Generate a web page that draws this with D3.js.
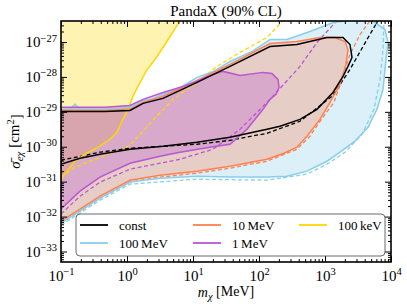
<!DOCTYPE html>
<html>
<head>
<meta charset="utf-8">
<script src="https://cdn.jsdelivr.net/npm/d3@7"></script>
<style>
  body { margin: 0; background: #fff; }
  svg text { font-family: "Liberation Serif", "DejaVu Serif", serif; fill: #000; }
</style>
</head>
<body>
<svg id="chart" width="407" height="304"></svg>
<script>
// contours: [m_chi (MeV), sigma_e (cm^2)]
const constSolid = [[0.1,1.03e-29],[0.464,1.03e-29],[1.11,1.1e-29],[1.75,1.75e-29],[3.51,2.43e-29],[11.5,6.97e-29],[36.4,2.0e-28],[147,7.43e-28],[376,8.49e-28],[1072,1.35e-27],[1874,1.35e-27],[2390,8.49e-28],[2565,3.6e-28],[2230,2.0e-28],[1874,1.03e-28],[1322,3.6e-29],[756,1.18e-29],[418,6.1e-30],[208,3.85e-30],[132,3.16e-30],[36.4,1.87e-30],[11.5,1.35e-30],[3.51,1.03e-30],[1.11,8.5e-31],[0.39,6.1e-31],[0.194,4.7e-31],[0.1,3.16e-31]];
const constDashed = [[0.1,4.1e-31],[0.39,6.97e-31],[1.11,9.06e-31],[3.51,1.03e-30],[11.5,1.18e-30],[36.4,1.53e-30],[132,2.43e-30],[418,5.36e-30],[1322,2.96e-29],[2390,1.64e-28],[4325,1.18e-27],[6355,4.1e-27]];

const mev100Solid = [[0.1,1.18e-29],[0.137,1.18e-29],[0.163,1.64e-29],[0.194,1.18e-29],[0.464,1.18e-29],[1.11,1.35e-29],[1.75,2.13e-29],[2.4,2.3e-29],[3.51,3.16e-29],[6,4.6e-29],[11.5,9.7e-29],[20,1.4e-28],[36.4,2.77e-28],[80,5.5e-28],[147,1.18e-27],[266,1.18e-27],[592,2.0e-27],[1322,3.6e-27],[2390,4.1e-27],[5150,4.1e-27],[8110,2.28e-27],[9020,9.7e-28],[8400,3.16e-28],[7570,4.4e-29],[6135,1.18e-29],[4485,3.6e-30],[2850,1.44e-30],[1690,6.97e-31],[1072,3.85e-31],[533,2.0e-31],[266,1.44e-31],[132,1.35e-31],[36.4,1.35e-31],[11.5,1.44e-31],[3.16,1.26e-31],[1.11,9.7e-32],[0.39,3.38e-32],[0.194,1.44e-32],[0.1,6.5e-33]];
const mev100Dashed = [[0.1,5.7e-33],[0.39,2.96e-32],[1.11,8.5e-32],[11.5,1.18e-31],[132,1.1e-31],[533,1.64e-31],[1072,3.16e-31],[2010,6.97e-31],[3640,2.28e-30],[5520,1.18e-29],[6810,8.5e-29],[7570,6.1e-28],[7830,4.1e-27]];

const mev10Solid = [[0.1,1.1e-29],[0.464,1.1e-29],[1.11,1.18e-29],[1.75,1.87e-29],[3.51,2.77e-29],[11.5,7.94e-29],[36.4,2.28e-28],[147,9.06e-28],[376,1.03e-27],[840,1.35e-27],[1418,1.35e-27],[2010,1.03e-27],[2230,6.1e-28],[2080,2.28e-28],[1690,6.1e-29],[1191,1.87e-29],[840,6.1e-30],[533,2.0e-30],[376,9.7e-31],[239,6.5e-31],[132,4.4e-31],[36.4,2.77e-31],[11.5,2.0e-31],[3.16,1.53e-31],[1.11,1.1e-31],[0.39,3.85e-32],[0.194,1.64e-32],[0.1,7.4e-33]];
const mev10Dashed = [[0.1,6.5e-33],[0.194,1.44e-32],[0.39,3.38e-32],[1.11,9.7e-32],[3.16,1.35e-31],[11.5,1.75e-31],[36.4,2.43e-31],[132,3.85e-31],[376,8.5e-31],[592,2.0e-30],[840,5.36e-30],[1368,1.87e-29],[1811,8.5e-29],[2390,4.4e-28],[3390,1.64e-27],[4810,4.1e-27]];

const mev1Solid = [[0.1,1.35e-29],[0.464,1.35e-29],[1.11,1.53e-29],[1.75,2.28e-29],[3.51,3.6e-29],[7.05,5.36e-29],[11.5,7.43e-29],[18.1,1.1e-28],[28.5,1.44e-28],[51.5,1.1e-28],[115,1.35e-28],[157,1.26e-28],[194,8.5e-29],[201,5.0e-29],[181,3.16e-29],[147,2.28e-29],[115,1.18e-29],[65.8,3.16e-30],[36.4,1.18e-30],[18.1,9.7e-31],[6.35,6.97e-31],[3.16,5.36e-31],[1.11,3.38e-31],[0.39,1.35e-31],[0.194,5.36e-32],[0.1,1.64e-32]];
const mev1Dashed = [[0.1,1.18e-32],[0.194,3.85e-32],[0.39,9.7e-32],[1.11,2.28e-31],[3.16,3.38e-31],[6.35,4.4e-31],[20.1,8.5e-31],[51.5,3.16e-30],[147,2.28e-29],[418,2.0e-28],[756,9.7e-28],[1521,4.1e-27]];

const kev100Solid = [[0.1,1.18e-31],[0.123,2.0e-31],[0.163,3.85e-31],[0.231,6.1e-31],[0.364,9.7e-31],[0.552,1.64e-30],[0.705,2.6e-30],[0.839,5.36e-30],[1.035,1.18e-29],[1.23,2.77e-29],[1.52,6.1e-29],[1.94,1.44e-28],[2.85,3.85e-28],[3.76,8.5e-28],[4.48,1.44e-27],[5.34,2.43e-27],[6.35,4.1e-27]];
const kev100Dashed = [[0.1,1.35e-31],[0.163,2.6e-31],[0.39,5.0e-31],[1.11,1.1e-30],[2.23,4.7e-30],[4.98,2.28e-29],[11.5,6.97e-29],[23.1,2.0e-28],[51.5,5.0e-28],[132,1.35e-27],[231,4.1e-27]];

const seriesNames = ['const', '100\u2009MeV', '10\u2009MeV', '1\u2009MeV', '100\u2009keV'];
const seriesColors = ['#000000', '#87ceeb', '#ff7f50', '#ba55d3', '#ffd700'];

const xTicks = [0.1, 1, 10, 100, 1000, 10000];
const xExps = [-1, 0, 1, 2, 3, 4];
const yTicks = [1e-33, 1e-32, 1e-31, 1e-30, 1e-29, 1e-28, 1e-27];
const yExps = [-33, -32, -31, -30, -29, -28, -27];

const W = 407, H = 304;
const margin = {top: 21, right: 16, bottom: 42, left: 61};
const svg = d3.select('#chart');

const x = d3.scaleLog().domain([0.1, 1e4]).range([margin.left, W - margin.right]);
const y = d3.scaleLog().domain([5e-34, 4e-27]).range([H - margin.bottom, margin.top]);

svg.append('clipPath').attr('id', 'plotclip')
  .append('rect')
  .attr('x', x.range()[0]).attr('y', y.range()[1])
  .attr('width', x.range()[1] - x.range()[0])
  .attr('height', y.range()[0] - y.range()[1]);

const plot = svg.append('g').attr('clip-path', 'url(#plotclip)');

const line = d3.line().x(d => x(d[0])).y(d => y(d[1]));
const closed = d3.line().x(d => x(d[0])).y(d => y(d[1])).curve(d3.curveLinearClosed);

// filled regions
const yellowRegion = kev100Solid.concat([[0.1, 4.1e-27]]);
const fills = [
  [yellowRegion, seriesColors[4]],
  [mev100Solid, seriesColors[1]],
  [mev10Solid, seriesColors[2]],
  [mev1Solid, seriesColors[3]]
];
fills.forEach(f => {
  plot.append('path')
    .attr('d', closed(f[0]))
    .attr('fill', f[1])
    .attr('fill-opacity', 0.3)
    .attr('stroke', 'none');
});

// dashed curves
const dashed = [
  [kev100Dashed, seriesColors[4]],
  [mev100Dashed, seriesColors[1]],
  [mev1Dashed, seriesColors[3]],
  [mev10Dashed, seriesColors[2]],
  [constDashed, seriesColors[0]]
];
dashed.forEach(s => {
  plot.append('path')
    .attr('d', line(s[0]))
    .attr('fill', 'none')
    .attr('stroke', s[1])
    .attr('stroke-width', 1.3)
    .attr('stroke-dasharray', '4,2.5');
});

// solid outlines
plot.append('path').attr('d', line(kev100Solid))
  .attr('fill', 'none').attr('stroke', seriesColors[4]).attr('stroke-width', 1.5);
[[mev100Solid, 1], [mev10Solid, 2], [mev1Solid, 3], [constSolid, 0]].forEach(s => {
  plot.append('path')
    .attr('d', closed(s[0]))
    .attr('fill', 'none')
    .attr('stroke', seriesColors[s[1]])
    .attr('stroke-width', 1.5);
});

// axes
function minorTicks(lo, hi) {
  let out = [];
  for (let e = lo; e <= hi; e++) for (let k = 2; k <= 9; k++) out.push(k * Math.pow(10, e));
  return out;
}
const xMinor = minorTicks(-1, 3);
const yMinor = minorTicks(-34, -27).filter(v => v > 5e-34 && v < 4e-27);

function supLabel(sel, exps) {
  sel.each(function(d, i) {
    const t = d3.select(this);
    const e = exps[i];
    t.text(null);
    t.append('tspan').text('10');
    t.append('tspan').attr('font-size', '10.5px').attr('dy', '-0.55em')
      .text(e < 0 ? '\u2212' + (-e) : String(e));
  });
}

const xb = svg.append('g').attr('transform', `translate(0,${y.range()[0]})`)
  .call(d3.axisBottom(x).tickValues(xTicks).tickSize(-6).tickPadding(8).tickFormat(''));
xb.selectAll('.tick text').style('font-size', '15px').call(supLabel, xExps);
svg.append('g').attr('transform', `translate(0,${y.range()[0]})`)
  .call(d3.axisBottom(x).tickValues(xMinor).tickSize(-3).tickFormat(''));
svg.append('g').attr('transform', `translate(0,${y.range()[1]})`)
  .call(d3.axisTop(x).tickValues(xTicks).tickSize(-6).tickFormat(''));
svg.append('g').attr('transform', `translate(0,${y.range()[1]})`)
  .call(d3.axisTop(x).tickValues(xMinor).tickSize(-3).tickFormat(''));

const yl = svg.append('g').attr('transform', `translate(${x.range()[0]},0)`)
  .call(d3.axisLeft(y).tickValues(yTicks).tickSize(-6).tickPadding(4).tickFormat(''));
yl.selectAll('.tick text').style('font-size', '15px').call(supLabel, yExps);
svg.append('g').attr('transform', `translate(${x.range()[0]},0)`)
  .call(d3.axisLeft(y).tickValues(yMinor).tickSize(-3).tickFormat(''));
svg.append('g').attr('transform', `translate(${x.range()[1]},0)`)
  .call(d3.axisRight(y).tickValues(yTicks).tickSize(-6).tickFormat(''));
svg.append('g').attr('transform', `translate(${x.range()[1]},0)`)
  .call(d3.axisRight(y).tickValues(yMinor).tickSize(-3).tickFormat(''));

svg.selectAll('.domain').remove();
svg.selectAll('.tick line').attr('stroke', '#000').attr('stroke-width', 1);
svg.selectAll('.tick text').attr('fill', '#000').attr('font-family', null);

// frame
svg.append('rect')
  .attr('x', x.range()[0]).attr('y', y.range()[1])
  .attr('width', x.range()[1] - x.range()[0])
  .attr('height', y.range()[0] - y.range()[1])
  .attr('fill', 'none').attr('stroke', '#000').attr('stroke-width', 1.6);

// legend
const lg = svg.append('g');
lg.append('rect').attr('x', 76).attr('y', 214).attr('width', 309).attr('height', 42)
  .attr('rx', 4).attr('fill', '#fff').attr('fill-opacity', 0.9)
  .attr('stroke', '#444').attr('stroke-width', 0.8);
const legendPos = [[80, 225], [80, 243], [193, 225], [193, 243], [299, 225]];
seriesNames.forEach((name, i) => {
  const p = legendPos[i];
  lg.append('line').attr('x1', p[0]).attr('x2', p[0] + 28).attr('y1', p[1]).attr('y2', p[1])
    .attr('stroke', seriesColors[i]).attr('stroke-width', 1.8);
  lg.append('text').attr('x', p[0] + 39).attr('y', p[1]).attr('dy', '0.35em')
    .style('font-size', '13px').text(name);
});

// title and labels
svg.append('text').attr('x', (x.range()[0] + x.range()[1]) / 2).attr('y', 16)
  .attr('text-anchor', 'middle').style('font-size', '15px').text('PandaX (90% CL)');

const xlab = svg.append('text').attr('x', (x.range()[0] + x.range()[1]) / 2).attr('y', 297)
  .attr('text-anchor', 'middle').style('font-size', '14px');
xlab.append('tspan').attr('font-style', 'italic').text('m');
xlab.append('tspan').attr('font-style', 'italic').attr('font-size', '10.5px').attr('dy', '0.3em').text('\u03c7');
xlab.append('tspan').attr('dy', '-0.3em').text(' [MeV]');

const ylab = svg.append('text')
  .attr('transform', `translate(20,${(y.range()[0] + y.range()[1]) / 2}) rotate(-90)`)
  .attr('text-anchor', 'middle').style('font-size', '15px');
ylab.append('tspan').attr('font-style', 'italic').text('\u03c3\u0304');
ylab.append('tspan').attr('font-style', 'italic').attr('font-size', '11px').attr('dy', '0.3em').text('e\u03c7');
ylab.append('tspan').attr('dy', '-0.3em').text(' [cm');
ylab.append('tspan').attr('font-size', '10.5px').attr('dy', '-0.45em').text('2');
ylab.append('tspan').attr('dy', '0.45em').text(']');
</script>
</body>
</html>
